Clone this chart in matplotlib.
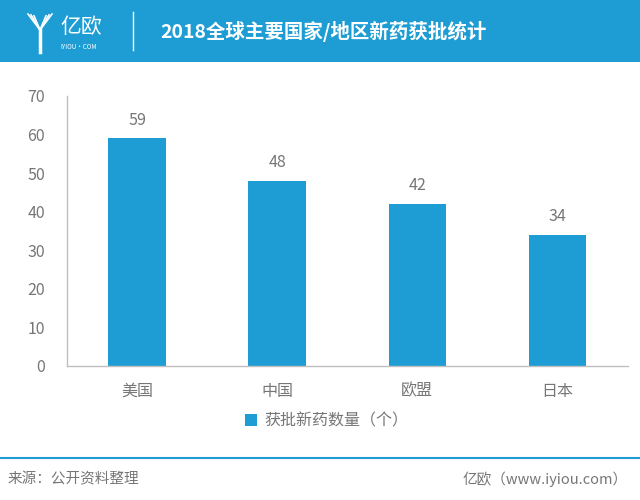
import matplotlib
matplotlib.use("Agg")
import matplotlib.pyplot as plt
from matplotlib.patches import Rectangle
from matplotlib.lines import Line2D

plt.rcParams['font.family'] = ['Noto Sans CJK SC', 'DejaVu Sans']

categories = ['美国', '中国', '欧盟', '日本']
values = [59, 48, 42, 34]
yticks = [0, 10, 20, 30, 40, 50, 60, 70]
title = '2018全球主要国家/地区新药获批统计'
legend_label = '获批新药数量（个）'
source = '来源：公开资料整理'
credit = '亿欧（www.iyiou.com）'

BLUE = '#1E9DD4'
GRAY = '#767676'
W, H = 640, 500

fig = plt.figure(figsize=(6.4, 5.0), dpi=100)
fig.patch.set_facecolor('white')

# header band
fig.patches.append(Rectangle((0, 1 - 62 / H), 1, 62 / H, transform=fig.transFigure,
                             facecolor=BLUE, edgecolor='none', zorder=0))
fig.text(160 / W, 1 - 32 / H, title, color='white', fontsize=14, fontweight='bold',
         ha='left', va='center')
fig.text(60 / W, 1 - 27 / H, '亿欧', color='white', fontsize=15, ha='left', va='center')
fig.text(60 / W, 1 - 47 / H, 'IYIOU·COM', color='white', fontsize=4.5, ha='left', va='center')
fig.lines.append(Line2D([133 / W, 133 / W], [1 - 12 / H, 1 - 50 / H], transform=fig.transFigure,
                        color='white', lw=1))
# simple Y logo strokes
for dx in [0, 3, 6]:
    fig.lines.append(Line2D([(28 + dx) / W, (40) / W], [1 - (14 + dx * 0.3) / H, 1 - 30 / H],
                            transform=fig.transFigure, color='white', lw=1.2))
    fig.lines.append(Line2D([(52 - dx) / W, (40) / W], [1 - (14 + dx * 0.3) / H, 1 - 30 / H],
                            transform=fig.transFigure, color='white', lw=1.2))
fig.lines.append(Line2D([40 / W, 40 / W], [1 - 30 / H, 1 - 52 / H], transform=fig.transFigure,
                        color='white', lw=2.5))

# bottom line
fig.lines.append(Line2D([0, 1], [1 - 458 / H, 1 - 458 / H], transform=fig.transFigure,
                        color=BLUE, lw=1.5))
fig.text(8 / W, 1 - 479 / H, source, color=GRAY, fontsize=10.5, ha='left', va='center')
fig.text(628 / W, 1 - 479 / H, credit, color=GRAY, fontsize=10.5, ha='right', va='center')

ax = fig.add_axes([67 / W, 1 - 366 / H, (627.5 - 67) / W, 270 / H])
x = list(range(len(categories)))
bars = ax.bar(x, values, width=0.41, color=BLUE, label=legend_label, zorder=2)
ax.set_xlim(-0.5, len(categories) - 0.5)
ax.set_ylim(0, 70)
ax.set_yticks(yticks)
ax.set_xticks(x)
ax.set_xticklabels(categories)
for s in ['top', 'right']:
    ax.spines[s].set_visible(False)
for s in ['left', 'bottom']:
    ax.spines[s].set_color('#BFBFBF')
    ax.spines[s].set_linewidth(1)
ax.tick_params(axis='both', length=0, colors=GRAY, labelsize=11.5)
ax.tick_params(axis='y', pad=16)
ax.tick_params(axis='x', pad=12)
for b, v in zip(bars, values):
    ax.annotate(str(v), (b.get_x() + b.get_width() / 2, v), xytext=(0, 7),
                textcoords='offset points', ha='center', va='bottom', color=GRAY, fontsize=11.5)

leg = fig.legend(handles=[bars], labels=[legend_label], loc='center',
                 bbox_to_anchor=(327 / W, 1 - 421 / H), frameon=False, fontsize=11.5,
                 handlelength=0.7, handleheight=0.7, handletextpad=0.5)
for t in leg.get_texts():
    t.set_color(GRAY)

fig.savefig('out.png', dpi=100, facecolor='white')
